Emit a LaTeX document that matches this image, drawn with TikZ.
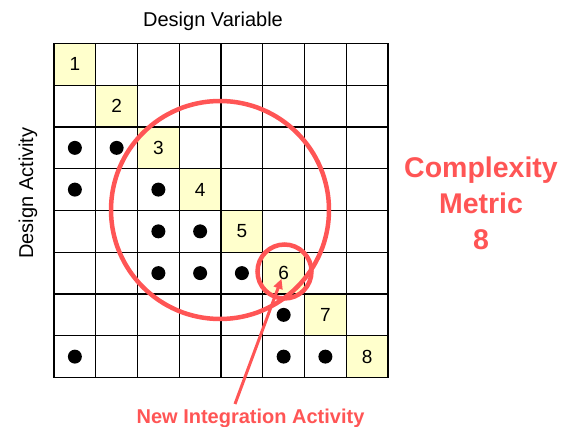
\documentclass[tikz,border=0pt]{standalone}
\usepackage{fontspec}
\setmainfont{Liberation Sans}
\usepackage{xcolor}
\usepackage{tikz}
\usetikzlibrary{arrows.meta,positioning,calc}

\definecolor{hotred}{RGB}{255,85,85}
\definecolor{paleyellow}{RGB}{255,255,204}

\begin{document}
\begin{tikzpicture}[
    x=1pt, y=-1pt,
    diag/.style={rectangle, fill=paleyellow, draw=none, minimum size=41.75pt, inner sep=0pt, font=\fontsize{19}{19}\selectfont},
    gridline/.style={draw=black, line width=1.2pt},
    ring/.style={circle, draw=hotred, line width=4.5pt, inner sep=0pt},
    redlbl/.style={text=hotred, font=\bfseries\fontsize{20}{24}\selectfont},
    axislbl/.style={font=\fontsize{20}{24}\selectfont}
]
    \useasboundingbox (0,0) rectangle (570,427);
    % diagonal cells
    \foreach \i in {1,...,8}
        \node[diag] (d\i) at ({54+41.75*(\i-0.5)},{43.5+41.75*(\i-0.5)}) {\i};
    % grid
    \foreach \k in {0,...,8} {
        \draw[gridline] ({54+41.75*\k},43.5) -- ({54+41.75*\k},377.5);
        \draw[gridline] (54,{43.5+41.75*\k}) -- (388,{43.5+41.75*\k});
    }
    % dependencies
    \foreach \r/\c in {3/1,3/2,4/1,4/3,5/3,5/4,6/3,6/4,6/5,7/6,8/1,8/6,8/7}
        \fill ({54+41.75*(\c-0.5)},{43.5+41.75*(\r-0.5)}) circle (7pt);

    \node[axislbl, anchor=base] (dvar) at (213,26.7) {Design Variable};
    \node[axislbl, anchor=base, rotate=90] (dact) at (33,193) {Design Activity};

    \node[ring, minimum size=218pt] (cluster) at (220,210) {};
    \node[ring, minimum size=54pt] (newring) at (284.5,271.5) {};

    \node[text=hotred, font=\bfseries\fontsize{28.5}{36}\selectfont, align=center] (metric) at (481,203) {Complexity\\Metric\\8};

    \node[redlbl, anchor=base] (newlbl) at (250.5,423) {New Integration Activity};
    \coordinate (astart) at (235,404);
    \draw[hotred, line width=3pt, -{Triangle[length=10pt,width=9pt]}, shorten >=6pt] (astart) -- (d6.center);
\end{tikzpicture}
\end{document}
